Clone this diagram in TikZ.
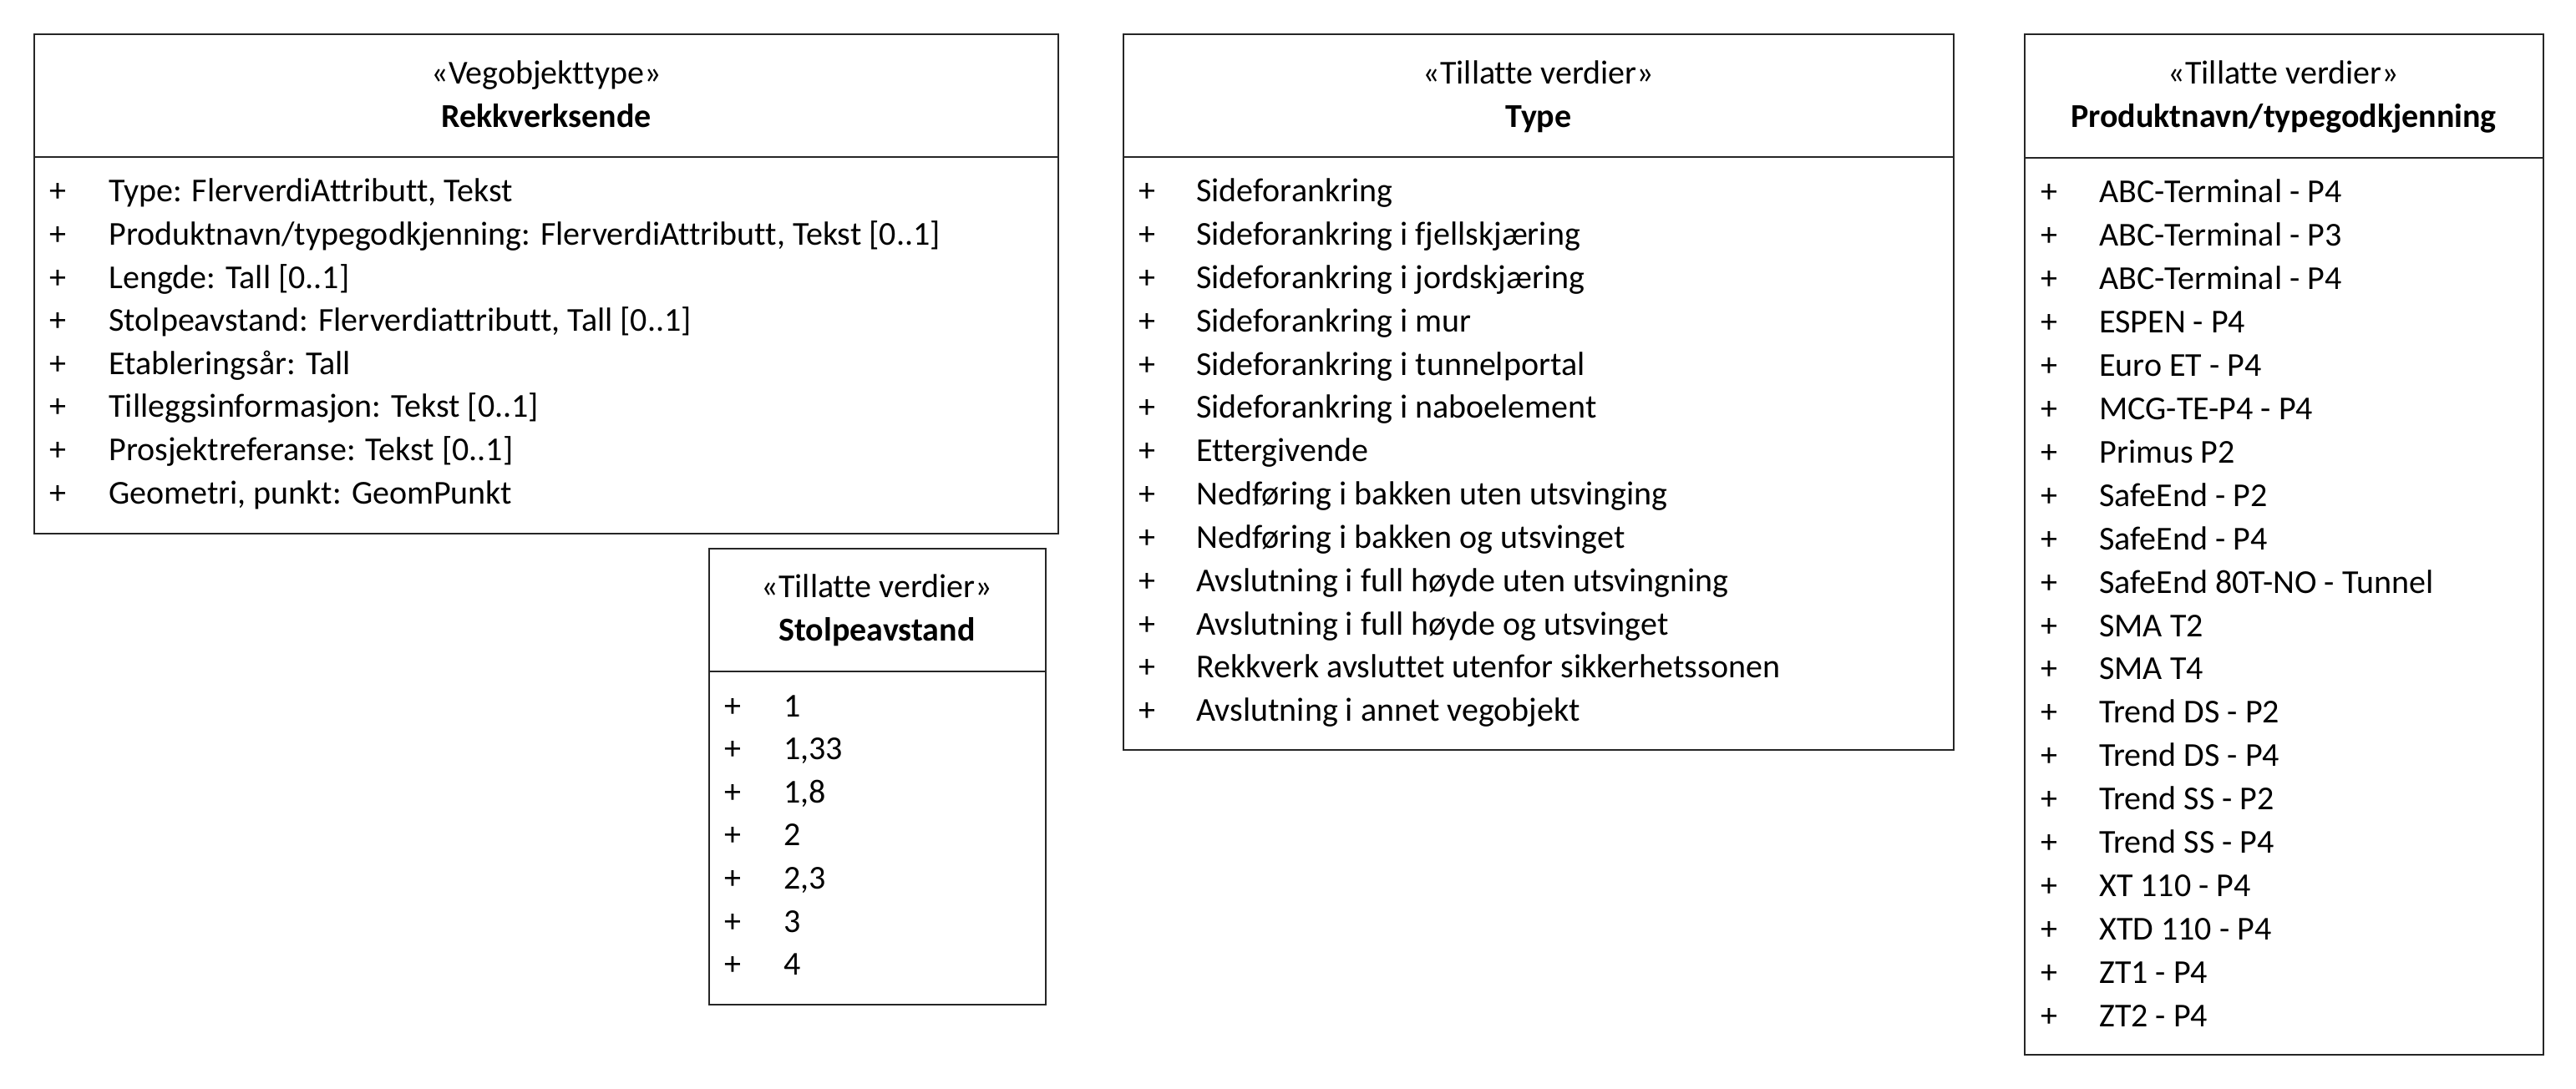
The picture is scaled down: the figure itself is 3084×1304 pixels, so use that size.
\documentclass[tikz,border=0pt]{standalone}
\usepackage{fontspec}
\setmainfont[Ligatures=NoCommon]{Carlito}
\usetikzlibrary{positioning}

\tikzset{
  classbox/.style={draw=black!85, line width=0.75pt},
  txt/.style={inner sep=0pt, font=\fontsize{20}{24}\selectfont},
  stereo/.style={txt, anchor=base},
  cname/.style={txt, anchor=base, font=\fontsize{20}{24}\selectfont\bfseries},
  plus/.style={txt, anchor=base},
  attr/.style={txt, anchor=base west}
}

\begin{document}
\begin{tikzpicture}[x=0.5pt, y=-0.5pt]
\useasboundingbox (0,0) rectangle (3084,1304);

% Rekkverksende
\draw[classbox] (41,41) rectangle (1267,639);
\draw[classbox] (41,188) -- (1267,188);
\node[stereo] (rekk-st) at (654,101) {«Vegobjekttype»};
\node[cname] (rekk) at (654,153) {Rekkverksende};
\foreach \t [count=\i] in {{Type: FlerverdiAttributt, Tekst},
  {Produktnavn/typegodkjenning: FlerverdiAttributt, Tekst [0..1]},
  {Lengde: Tall [0..1]},
  {Stolpeavstand: Flerverdiattributt, Tall [0..1]},
  {Etableringsår: Tall},
  {Tilleggsinformasjon: Tekst [0..1]},
  {Prosjektreferanse: Tekst [0..1]},
  {Geometri, punkt: GeomPunkt}}{
  \node[plus] (rekk-p\i) at (69,242+51.6*\i-51.6) {+};
  \node[attr] (rekk-a\i) at (130,242+51.6*\i-51.6) {\t};
}

% Stolpeavstand
\draw[classbox] (849,657) rectangle (1252,1203);
\draw[classbox] (849,804) -- (1252,804);
\node[stereo] (stolpe-st) at (1050,715) {«Tillatte verdier»};
\node[cname] (stolpe) at (1050,767) {Stolpeavstand};
\foreach \t [count=\i] in {1,{1,33},{1,8},2,{2,3},3,4}{
  \node[plus] (stolpe-p\i) at (877,858+51.6*\i-51.6) {+};
  \node[attr] (stolpe-a\i) at (938,858+51.6*\i-51.6) {\t};
}

% Type
\draw[classbox] (1345,41) rectangle (2339,898);
\draw[classbox] (1345,188) -- (2339,188);
\node[stereo] (type-st) at (1842,101) {«Tillatte verdier»};
\node[cname] (type) at (1842,153) {Type};
\foreach \t [count=\i] in {Sideforankring,
  Sideforankring i fjellskjæring,
  Sideforankring i jordskjæring,
  Sideforankring i mur,
  Sideforankring i tunnelportal,
  Sideforankring i naboelement,
  Ettergivende,
  Nedføring i bakken uten utsvinging,
  Nedføring i bakken og utsvinget,
  Avslutning i full høyde uten utsvingning,
  Avslutning i full høyde og utsvinget,
  Rekkverk avsluttet utenfor sikkerhetssonen,
  Avslutning i annet vegobjekt}{
  \node[plus] (type-p\i) at (1373,242+51.8*\i-51.8) {+};
  \node[attr] (type-a\i) at (1432,242+51.8*\i-51.8) {\t};
}

% Produktnavn/typegodkjenning
\draw[classbox] (2424,41) rectangle (3045,1263);
\draw[classbox] (2424,189) -- (3045,189);
\node[stereo] (prod-st) at (2734,101) {«Tillatte verdier»};
\node[cname] (prod) at (2734,153) {Produktnavn/typegodkjenning};
\foreach \t [count=\i] in {ABC-Terminal - P4, ABC-Terminal - P3,
  ABC-Terminal - P4, ESPEN - P4, Euro ET - P4, MCG-TE-P4 - P4,
  Primus P2, SafeEnd - P2, SafeEnd - P4, SafeEnd 80T-NO - Tunnel,
  SMA T2, SMA T4, Trend DS - P2, Trend DS - P4, Trend SS - P2,
  Trend SS - P4, XT 110 - P4, XTD 110 - P4, ZT1 - P4, ZT2 - P4}{
  \node[plus] (prod-p\i) at (2453,243+51.9*\i-51.9) {+};
  \node[attr] (prod-a\i) at (2513,243+51.9*\i-51.9) {\t};
}
\end{tikzpicture}
\end{document}
